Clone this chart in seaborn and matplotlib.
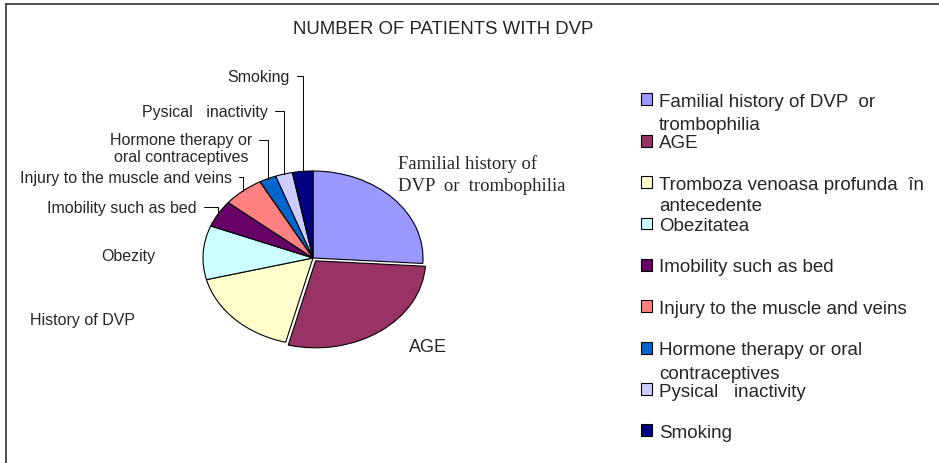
import numpy as np
import matplotlib
matplotlib.use("Agg")
import matplotlib.pyplot as plt
import seaborn as sns
from matplotlib.lines import Line2D

# values (share of patients, %)
factors = ['Familial history of DVP or trombophilia', 'AGE', 'History of DVP', 'Obezity',
           'Imobility such as bed', 'Injury to the muscle and veins',
           'Hormone therapy or oral contraceptives', 'Pysical inactivity', 'Smoking']
patients = [26, 28, 17, 10, 5, 6, 2.5, 2.5, 3]
explode = [0, 0.04, 0, 0, 0, 0, 0, 0, 0]
colors = ['#9999FF', '#993366', '#FFFFCC', '#CCFFFF', '#660066',
          '#FF8080', '#0066CC', '#CCCCFF', '#000080']

legend_first = ['Familial history of DVP  or', 'AGE', 'Tromboza venoasa profunda  în',
                'Obezitatea', 'Imobility such as bed', 'Injury to the muscle and veins',
                'Hormone therapy or oral', 'Pysical   inactivity', 'Smoking']
legend_more = ['trombophilia', None, 'antecedente', None, None, None,
               'contraceptives', None, None]
more_drop = [23, 0, 21, 0, 0, 0, 24, 0, 0]

sns.set_theme(style="white")
plt.rcParams['font.family'] = ['Liberation Sans', 'DejaVu Sans']

W, H = 939, 464
fig = plt.figure(figsize=(W / 100, H / 100), dpi=100)

# pie centre and radii in pixels
cx, cy, rx, ry = 313, 259, 110, 87
ax = fig.add_axes([(cx - rx) / W, (H - cy - ry) / H, 2 * rx / W, 2 * ry / H])

def px(x, y):
    # pixel position (from top-left) -> pie data coords
    return (x - cx) / rx, (cy - y) / ry

wedges, _ = ax.pie(patients, explode=explode, colors=sns.color_palette(colors),
                   startangle=90, counterclock=False, radius=1,
                   wedgeprops=dict(edgecolor='black', linewidth=0.8))
ax.set_aspect('auto')
ax.set_xlim(-1, 1)
ax.set_ylim(-1, 1)
ax.axis('off')

def mid_point(w):
    a = np.deg2rad((w.theta1 + w.theta2) / 2)
    return np.cos(a), np.sin(a)

small = 11.5
lead = dict(arrowstyle='-', color='black', lw=0.7, shrinkA=3, shrinkB=0,
            relpos=(1, 0.5), connectionstyle='angle,angleA=0,angleB=90,rad=0')

# labels with leader lines
ax.annotate('Smoking', xy=mid_point(wedges[8]), xytext=px(290, 77), ha='right', va='center',
            fontsize=small, arrowprops=lead, annotation_clip=False)
ax.annotate('Pysical   inactivity', xy=mid_point(wedges[7]), xytext=px(268, 112), ha='right',
            va='center', fontsize=small, arrowprops=lead, annotation_clip=False)
ax.annotate('Hormone therapy or\noral contraceptives', xy=mid_point(wedges[6]), xytext=px(252, 149),
            ha='right', va='center', multialignment='center', fontsize=small,
            arrowprops=dict(lead, relpos=(1, 0.75)), annotation_clip=False)
ax.annotate('Injury to the muscle and veins', xy=mid_point(wedges[5]), xytext=px(232, 178),
            ha='right', va='center', fontsize=small, arrowprops=lead, annotation_clip=False)
ax.annotate('Imobility such as bed', xy=mid_point(wedges[4]), xytext=px(197, 208),
            ha='right', va='center', fontsize=small, arrowprops=lead, annotation_clip=False)

# labels without leaders
ax.text(*px(128, 256), 'Obezity', ha='center', va='center', fontsize=small, clip_on=False)
ax.text(*px(82, 320), 'History of DVP', ha='center', va='center', fontsize=small, clip_on=False)
ax.text(*px(428, 347), 'AGE', ha='center', va='center', fontsize=13, clip_on=False)
ax.text(*px(398, 175), 'Familial history of\nDVP  or  trombophilia', ha='left', va='center',
        fontsize=13.4, family=['Liberation Serif', 'DejaVu Serif'], linespacing=1.38, clip_on=False)

fig.text(443 / W, 1 - 30 / H, 'NUMBER OF PATIENTS WITH DVP', ha='center', va='center', fontsize=13.4)

# legend
leg = fig.legend(wedges, legend_first, loc='upper left', bbox_to_anchor=(641 / W, 1 - 94 / H),
                 frameon=False, fontsize=13.5, handlelength=0.6, handleheight=0.6,
                 handletextpad=0.35, labelspacing=1.3, borderpad=0, borderaxespad=0)

fig.canvas.draw()
r = fig.canvas.get_renderer()
for t, more, drop in zip(leg.get_texts(), legend_more, more_drop):
    if more is None:
        continue
    bb = t.get_window_extent(r)
    fig.text(bb.x0 / W, (bb.y0 + bb.y1) / 2 / H - drop / H, more, ha='left', va='center', fontsize=13.5)

# chart frame (only top and left edges are visible)
fig.add_artist(Line2D([6 / W, 1], [1 - 5 / H, 1 - 5 / H], color='#333333', lw=1.2))
fig.add_artist(Line2D([6 / W, 6 / W], [0, 1 - 5 / H], color='#333333', lw=1.2))

fig.savefig('out.png', dpi=100)
